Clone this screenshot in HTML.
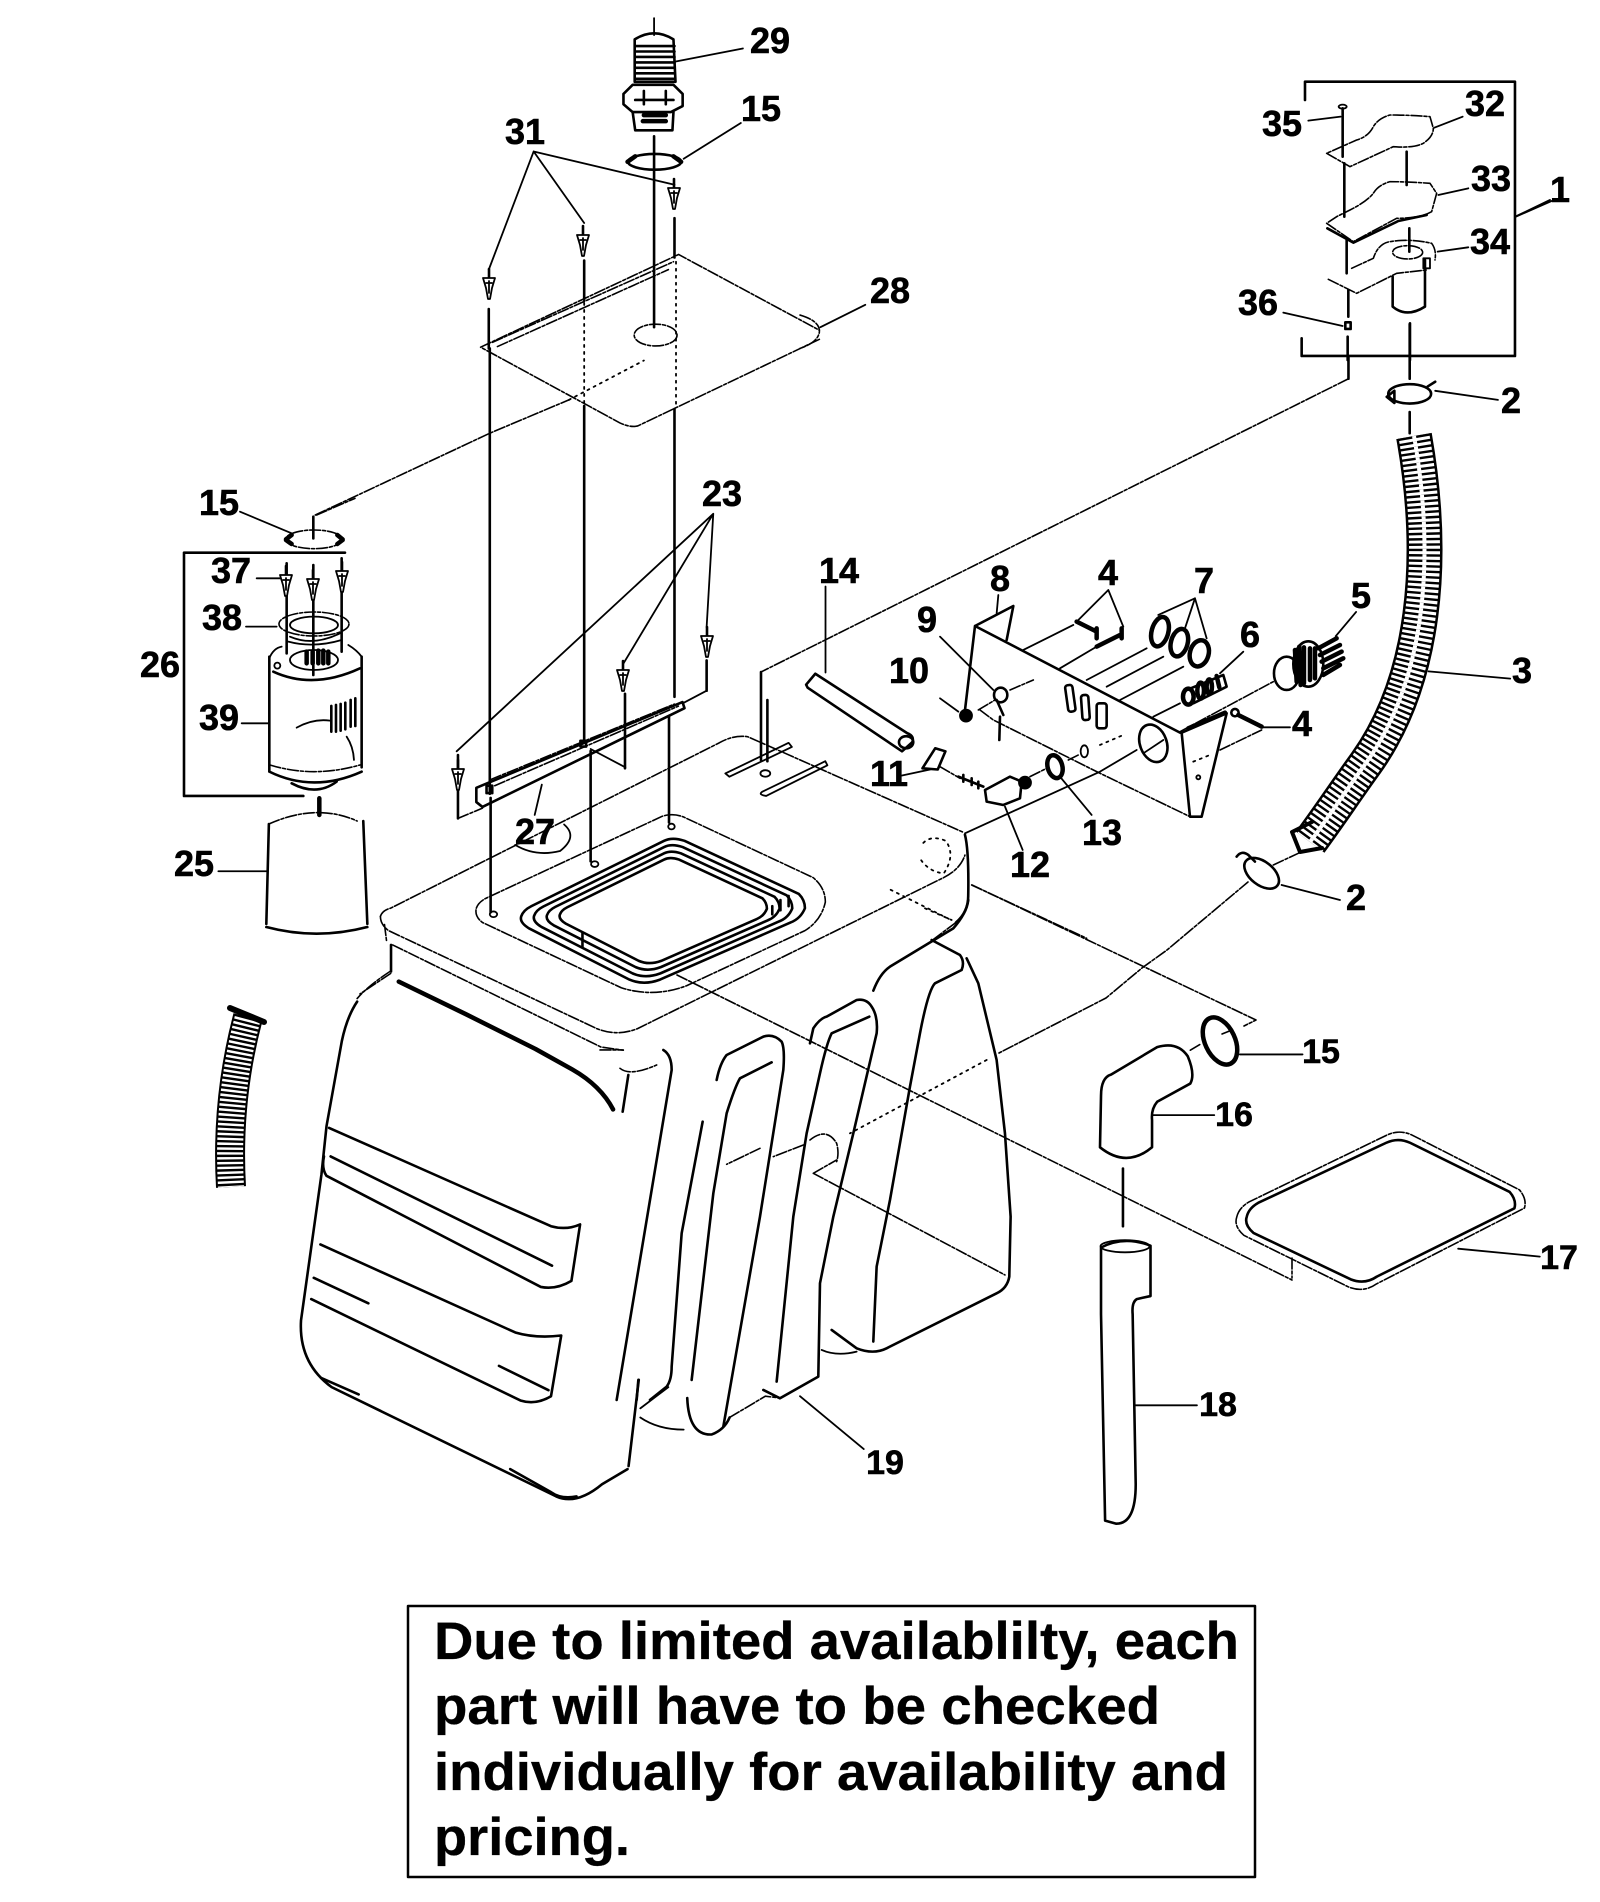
<!DOCTYPE html>
<html><head><meta charset="utf-8"><style>
html,body{margin:0;padding:0;background:#fff}
svg{display:block}
svg *{vector-effect:non-scaling-stroke}
g,path,ellipse,line,polyline,rect,circle{fill:none;stroke:#000;stroke-width:1.8;stroke-linecap:round;stroke-linejoin:round}
.d{stroke-width:1.6;stroke-dasharray:11 2 3 2}
.o{stroke-width:1.8;stroke-dasharray:2 5}
.t{stroke-width:2.6}
.x{stroke-width:4.5}
.f{fill:#000}
.w{fill:#fff}
text{font-family:"Liberation Sans",sans-serif;font-weight:bold;fill:#000;stroke:#000;stroke-width:.6;font-size:36px;text-anchor:middle}
text.b{font-size:53px;text-anchor:start;stroke-width:.3}
text.m{font-size:34px}
</style></head><body>
<svg width="1600" height="1902" viewBox="0 0 1600 1902" xmlns="http://www.w3.org/2000/svg">
<defs><g id="sc"><path d="M0 -16V-8" class="t"/><path d="M-6 -7L6 -7L3 3L1 14H-1L-3 3Z" class="w"/><path d="M-3 -2H3M0 -4V8"/></g></defs>

<!-- Q1 -->
<g transform="scale(.5102 .6059)">
<path d="M1282 30V58"/>
<path class="t" d="M1244 65Q1282 45 1320 65L1324 135H1244Z"/>
<path class="t" d="M1246 76H1322M1246 85H1322M1246 94H1322M1246 103H1322M1246 112H1322M1246 121H1322M1246 130H1322"/>
<path class="t" d="M1222 155L1240 140H1320L1338 155V175L1315 185H1240L1222 172Z"/>
<path class="t" d="M1240 185L1245 215H1318L1320 185M1262 150V172M1305 150V172M1245 165H1320"/>
<path class="x" d="M1260 200H1305M1262 190H1305"/>
<path class="t" d="M1282 225V540"/>
<ellipse cx="1283" cy="267" rx="52" ry="13" class="t"/>
<path class="x" d="M1230 267L1245 258M1335 267L1320 258"/>
<path d="M1322 102L1456 80M1340 262L1452 203"/>
<path d="M1046 250L958 445M1046 250L1145 368M1046 250L1322 305"/>
<path class="t" d="M958 510V575M1145 430V495M1322 360V425"/>
<path class="o" d="M1145 500V665M1325 432V670"/>
<path class="d" d="M942 573L1330 420L1606 545M1606 560L1250 703Q1235 706 1215 698L942 573"/>
<path class="d" d="M965 565L1320 432M975 572L1310 445"/>
<ellipse cx="1285" cy="553" rx="42" ry="18" class="d"/>
<path class="d" d="M618 850L960 715L1115 660"/>
<path class="o" d="M1115 660L1262 595"/>
<path d="M1062 1295L1048 1345"/>
</g>

<!-- Filter -->
<g transform="translate(160 500) scale(.3333)">
<ellipse cx="462" cy="118" rx="85" ry="28" class="d"/>
<path class="x" d="M378 118L395 105M378 120L395 132M548 118L532 105M548 120L532 132"/>
<path d="M240 35L395 100M290 235H360M258 380H350M245 670H325"/>
<path class="t" d="M460 50V115"/>
<path class="d" d="M470 45L585 -5"/>
<path class="t" d="M555 158H72V888H430"/>
<path class="t" d="M380 190V225M380 270V460M460 195V235M460 280V525M545 175V210M545 260V455"/>
<ellipse cx="462" cy="372" rx="105" ry="36" class="d"/>
<ellipse cx="462" cy="375" rx="72" ry="25"/>
<path d="M390 410Q460 440 540 400M385 425Q460 445 545 420"/>
<path class="t" d="M328 470V812M605 470V802"/>
<path d="M328 475Q340 445 365 440M565 435Q590 450 605 470"/>
<path class="t" d="M340 515Q460 570 600 505"/>
<ellipse cx="462" cy="480" rx="72" ry="30"/>
<circle cx="352" cy="497" r="9"/>
<path class="x" d="M440 455V490M458 455V490M475 452V490M490 452V490M505 455V490"/>
<path class="d" d="M330 795Q460 835 600 795"/>
<path class="t" d="M328 815Q460 880 605 815"/>
<path class="t" d="M395 850Q470 890 530 845"/>
<path class="t" d="M514 618V695M528 615V695M542 612V692M556 608V688M572 600V680M586 595V678"/>
<path d="M410 683Q460 655 510 662M560 710Q580 740 582 780"/>
<path class="x" d="M478 895V945"/>
</g>

<!-- 25 -->
<g transform="scale(.5102 .6059)">
<path d="M428 1438H522"/>
<path class="t" d="M527 1360L522 1525M712 1355L720 1525"/>
<path class="d" d="M527 1360Q620 1325 700 1355"/>
<path class="t" d="M522 1530Q620 1552 720 1530"/>
</g>

<!-- 23 + bracket -->
<g transform="scale(.5102 .6059)">
<path d="M1398 848L895 1240M1398 848L1222 1095M1398 848L1385 1035"/>
<path class="t" d="M1225 1145V1268M1385 1090V1140"/>
<path d="M1385 1140L1340 1160"/>
<path class="t" d="M960 575V1310M1145 670V1225M1322 675V1150"/>
</g>

<g transform="translate(360 700) scale(.4082)">
<path class="t" d="M285 215L790 5L795 20L300 262L285 250Z"/>
<path class="d" d="M320 195L770 10M330 210L780 15"/>
<path class="t" d="M240 135V290"/>
<path class="d" d="M240 290L300 265"/>
<path d="M565 120L650 165"/>
<path class="t" d="M320 240V520M565 125V395M757 40V300"/>
<ellipse cx="327" cy="525" rx="9" ry="7"/><ellipse cx="575" cy="402" rx="9" ry="7"/><ellipse cx="763" cy="310" rx="8" ry="7"/>
<path d="M310 210h14v18h-14z" class="t"/><path d="M540 100h14v14h-14z" class="t"/>
<path d="M500 305Q535 335 490 370M380 355Q430 385 490 370"/>
<!-- tank top -->
<path class="d" d="M50 530Q55 515 75 510L880 105Q915 85 950 90L1480 325"/>
<path class="d" d="M50 530Q50 550 70 565L580 805Q630 825 680 805L1430 435Q1470 415 1482 380"/>
<path class="t" d="M1482 330Q1492 370 1490 480Q1490 520 1460 545"/>
<path class="d" d="M60 550L65 590M80 600L590 850L645 858"/>
<path class="t" d="M76 600V665"/>
<path class="d" d="M75 670L0 720M1460 545L1400 590"/>
<path class="d" d="M285 510Q290 495 310 485L740 285Q770 275 800 290L1110 435Q1140 460 1140 495Q1130 540 1090 565L800 700Q720 730 640 705L300 545Q280 530 285 510Z"/>
<g transform="translate(745 515)">
<path class="t" d="M-350 15Q-345 0 -325 -10L0 -170Q20 -180 50 -170L330 -40Q345 -25 345 -5Q335 20 310 30L-10 170Q-50 185 -85 170L-330 45Q-355 30 -350 15Z"/>
<path class="t" transform="scale(.91)" d="M-350 15Q-345 0 -325 -10L0 -170Q20 -180 50 -170L330 -40Q345 -25 345 -5Q335 20 310 30L-10 170Q-50 185 -85 170L-330 45Q-355 30 -350 15Z"/>
<path class="t" transform="scale(.82)" d="M-350 15Q-345 0 -325 -10L0 -170Q20 -180 50 -170L330 -40Q345 -25 345 -5Q335 20 310 30L-10 170Q-50 185 -85 170L-330 45Q-355 30 -350 15Z"/>
<path class="t" transform="scale(.73)" d="M-350 15Q-345 0 -325 -10L0 -170Q20 -180 50 -170L330 -40Q345 -25 345 -5Q335 20 310 30L-10 170Q-50 185 -85 170L-330 45Q-355 30 -350 15Z"/>
</g>
<path class="t" d="M545 570V605M1010 505V525M1030 490V515M1050 480V505"/>
<!-- slots -->
<path d="M895 180L1050 105L1058 115L905 188ZM985 225L1140 150L1145 160L995 235Q975 232 985 225Z"/>
<ellipse cx="993" cy="180" rx="12" ry="8"/>
<path class="t" d="M998 0V150"/>
<path class="o" d="M1380 350Q1400 330 1435 345Q1460 380 1430 425Q1390 420 1370 385M1300 465L1450 540"/>
<!-- front top details -->
<path class="x" d="M95 690L260 770L430 855L520 905Q590 945 620 1003"/>
</g>

<!-- Front panel -->
<g transform="translate(0 950) scale(.5102 .6071)">
<path class="d" d="M765 35Q720 60 700 80"/>
<path class="t" d="M700 85Q680 110 670 150L640 290L630 370L590 610Q585 680 650 720L1090 900Q1130 915 1180 880L1230 855"/>
<path class="t" d="M1252 708L1232 850"/>
<path class="t" d="M645 293L1080 455Q1110 462 1137 452L1120 545Q1090 560 1060 555L640 372Q630 360 635 340"/>
<path class="t" d="M648 340L1082 520"/>
<path class="t" d="M628 485L1010 630Q1050 640 1100 635L1080 735Q1050 750 1020 742L610 575"/>
<path class="t" d="M615 540L722 582M978 685L1075 725M630 705L703 732M1000 855L1080 893Q1100 905 1130 900"/>
<path d="M1255 755L1310 720M1255 770Q1290 790 1340 790"/>
<path class="t" d="M1347 738Q1350 800 1395 798Q1420 790 1430 770"/>
<path class="d" d="M1430 770L1500 735L1530 738"/>
</g>

<!-- Ribs -->
<g transform="translate(600 900) scale(.3333)">
<path class="t" d="M190 450Q215 465 215 510L50 1500"/>
<path d="M0 450H70" class="d"/>
<path class="d" d="M60 505Q90 530 170 495"/>
<path class="t" d="M85 525L68 635"/>
<path class="t" d="M350 540Q360 490 380 465L490 410Q520 400 545 425Q555 445 550 510L480 950L370 1580"/>
<path class="t" d="M515 487L420 535Q405 560 380 640L340 880L275 1440"/>
<path class="t" d="M308 665L245 1000L215 1400Q215 1440 200 1460L150 1500M115 1440L110 1500"/>
<path class="t" d="M630 430L640 385Q660 355 680 350L770 300Q800 295 815 320Q835 350 830 400L760 700L700 950L660 1150L655 1430L540 1495L490 1470"/>
<path class="t" d="M808 350L695 400Q680 430 660 520L620 700L580 950L530 1445"/>
<path class="t" d="M820 272Q840 220 870 200L1060 85Q1100 40 1105 0"/>
<path class="t" d="M995 120L1080 165Q1095 185 1085 210L1005 250Q985 270 960 400L930 560L870 900L830 1100L820 1325"/>
<path class="t" d="M1100 175L1135 250L1190 480L1215 700L1232 950L1228 1130Q1222 1165 1190 1180L860 1345Q820 1365 770 1345L695 1290"/>
<path d="M665 1350Q710 1370 770 1355"/>
<path class="o" d="M1160 480L750 700"/>
<path class="d" d="M610 735L520 770M480 745L380 793M640 820L710 780M640 820L1215 1125"/>
<path d="M630 720Q680 680 710 730Q718 760 710 785" class="d"/>
<path class="o" d="M975 25L1055 60"/>
</g>

<!-- Long lines in page coordinates -->
<path class="d" d="M677 975L1292 1280M1292 1258V1278"/>
<path class="d" d="M1248 882L1167 950L1142 968L1106 998L999 1053"/>
<path class="d" d="M972 885L1256 1020L1244 1026"/>
<path class="d" d="M1348 379L761 672"/>
<path class="t" d="M761 672V760"/>

<!-- Panel + small parts -->
<g transform="translate(940 540) scale(.3333)">
<path class="t" d="M105 258L720 578M105 258L75 510M105 258L220 198L200 300"/>
<path d="M175 165L170 220"/>
<path class="d" d="M120 510L160 540L300 610L470 695L750 830"/>
<path class="t" d="M725 578L750 830L785 830L860 520L725 578"/>
<path class="x" d="M745 565L855 518"/>
<circle cx="775" cy="712" r="6"/>
<path class="o" d="M760 665L810 645M480 615L550 585"/>
<ellipse cx="640" cy="610" rx="40" ry="58" transform="rotate(-20 640 610)" class="t"/>
<path d="M610 640L670 600M75 880L480 695L590 630"/>
<rect x="380" y="435" width="22" height="80" rx="8" class="t" transform="rotate(-8 391 475)"/>
<rect x="425" y="465" width="22" height="75" rx="8" class="t" transform="rotate(-4 436 500)"/>
<rect x="470" y="490" width="30" height="75" rx="8" class="t"/>
<ellipse cx="433" cy="634" rx="11" ry="18"/>
<ellipse cx="182" cy="465" rx="20" ry="22" class="t"/>
<path class="t" d="M170 480L190 525M180 530L178 600"/>
<path class="d" d="M210 450L280 420M115 510L165 480M385 660L415 645"/>
<path d="M0 290L160 450M0 475L55 515"/>
<circle cx="78" cy="527" r="18" class="f"/>
<path d="M250 330L400 255M360 385L470 320M440 420L620 325M500 440L670 350M540 480L730 380M640 530L720 490"/>
<path class="d" d="M720 575L1000 425"/>
<path d="M505 150L415 240M505 150L550 260"/>
<path class="x" d="M410 245L470 275M470 265V295M470 320L540 285M545 265V295"/>
<ellipse cx="660" cy="275" rx="25" ry="45" transform="rotate(15 660 275)" class="x"/>
<ellipse cx="718" cy="308" rx="25" ry="42" transform="rotate(15 718 308)" class="x"/>
<ellipse cx="778" cy="340" rx="28" ry="40" transform="rotate(15 778 340)" class="x"/>
<path d="M765 175L655 225M765 175L735 265M765 175L800 295"/>
<path d="M910 335L840 400"/>
<path class="t" d="M745 448L850 405L860 440L760 490"/>
<ellipse cx="745" cy="470" rx="16" ry="24" class="x"/>
<ellipse cx="782" cy="452" rx="10" ry="24" class="x"/>
<ellipse cx="808" cy="440" rx="8" ry="22" class="x"/>
<path class="x" d="M830 408L838 442"/>
<ellipse cx="1040" cy="400" rx="38" ry="50" class="t"/>
<ellipse cx="1105" cy="372" rx="45" ry="68" class="t"/>
<path class="x" d="M1065 330L1070 425M1078 320L1082 435M1092 322V430M1110 325V420M1125 325V415"/>
<path class="x" d="M1135 325L1190 295M1140 345L1200 315M1145 365L1205 335M1150 385L1210 355M1150 405L1200 375"/>
<circle cx="885" cy="518" r="11" class="t"/>
<path class="x" d="M895 525L965 560"/>
<path d="M965 562H1050"/>
<path class="d" d="M840 630L965 570"/>
<path class="t" d="M55 710L130 740M70 705V725M95 715V735M115 725V745"/>
<path class="t" d="M135 750L210 710L245 725L240 775L190 795L140 785Z"/>
<circle cx="255" cy="728" r="18" class="f"/>
<path d="M195 800L248 930"/>
<path class="d" d="M270 710L320 685M0 680L60 715"/>
<ellipse cx="345" cy="680" rx="22" ry="35" transform="rotate(-15 345 680)" class="x"/>
<path d="M360 710L455 825"/>
<path style="stroke-width:1.6;stroke-dasharray:11 2 3 2" d="M95 1035L440 1195"/>
<ellipse cx="965" cy="1000" rx="60" ry="35" transform="rotate(38 965 1000)" class="t"/>
<path class="t" d="M890 950Q905 930 925 945L945 965"/>
<path d="M1025 1035L1200 1080"/>
<path class="d" d="M1000 975L1075 940"/>
</g>

<!-- Q2 -->
<g transform="translate(800 0) scale(.5102 .6059)">
<path d="M40 540L128 503"/>
<path class="d" d="M0 520Q40 530 38 548Q35 565 0 575"/>
<path d="M50 968V1110"/>
<path class="t" d="M12 1130L30 1112L210 1210Q225 1215 220 1225L200 1240L15 1135Z"/>
<ellipse cx="208" cy="1225" rx="14" ry="10" class="t"/>
<path d="M200 1280L255 1270"/>
<path class="t" d="M240 1268L265 1235L285 1240L270 1270Z"/>
<path class="t" d="M1075 590V625M1195 535V625M1195 680V715"/>
<ellipse cx="1195" cy="650" rx="42" ry="16" class="t"/>
<path class="t" d="M1150 655L1165 645V665ZM1230 638L1245 630"/>
<path d="M1245 645L1368 660"/>
<path d="M1402 358L1478 330"/>
<path d="M1232 1108L1392 1120"/>
<path d="M1090 1010L1050 1050"/>
</g>

<!-- 3 hose -->
<g>
<path d="M1414 436C1436 560 1425 680 1366 763C1345 792 1330 815 1310 842" style="stroke-width:36;stroke-linecap:butt"/>
<path d="M1414 436C1436 560 1425 680 1366 763C1345 792 1330 815 1310 842" style="stroke:#fff;stroke-width:31;stroke-linecap:butt"/>
<path d="M1414 436C1436 560 1425 680 1366 763C1345 792 1330 815 1310 842" style="stroke-width:32;stroke-dasharray:2.4 3;stroke-linecap:butt"/>
<path d="M1414 436C1436 560 1425 680 1366 763C1345 792 1330 815 1310 842" style="stroke:#fff;stroke-width:4;stroke-dasharray:3 2.4;stroke-linecap:butt"/>
<path d="M1312 822L1292 832L1300 852L1322 848" style="stroke-width:4"/>
<path d="M248 1017Q226 1100 231 1187" style="stroke-width:30;stroke-linecap:butt"/>
<path d="M248 1017Q226 1100 231 1187" style="stroke:#fff;stroke-width:26;stroke-linecap:butt"/>
<path d="M248 1017Q226 1100 231 1187" style="stroke-width:28;stroke-dasharray:2.4 2.4;stroke-linecap:butt"/>
<path d="M230 1008L264 1022" style="stroke-width:6"/>
</g>

<!-- Assembly 1 -->
<g transform="translate(1250 60) scale(.3333)">
<path class="t" d="M165 120V65H795V888H155V835"/>
<path d="M800 468L900 420"/>
<ellipse cx="278" cy="140" rx="12" ry="6"/>
<path class="t" d="M278 145V290M283 310V470M290 540V640M295 690V770M293 830V900M470 275V375M478 505V575M480 790V900"/>
<path class="d" d="M230 280L300 320L430 260Q490 265 520 250Q550 230 550 205L540 170Q480 165 420 165Q385 175 370 200Q355 230 320 240Z"/>
<path d="M553 203L638 170M565 405L655 385M563 575L655 562M175 182L272 170M100 758L278 798"/>
<path class="d" d="M230 490L310 545L440 475Q510 475 545 455L560 400L540 370Q470 365 420 365Q385 375 370 400Q350 425 300 450L260 470Z"/>
<path class="t" d="M232 505L310 548L445 483L530 465"/>
<path class="d" d="M235 658L320 700L440 640L530 630M305 625L370 595Q385 550 420 545Q480 535 545 550Q560 570 555 600"/>
<ellipse cx="473" cy="577" rx="45" ry="20" class="d"/>
<path class="t" d="M428 650V740Q470 775 525 740V600"/>
<rect x="520" y="595" width="20" height="30"/>
<rect x="286" y="787" width="16" height="20" class="t"/>
</g>

<!-- Q4 -->
<g transform="translate(800 950) scale(.5102 .6071)">
<path d="M862 172H985M692 272H812M1290 492L1450 505M655 750H778M0 735L125 822"/>
<path class="t" d="M590 240Q590 210 610 205L700 160Q740 150 760 175Q775 205 765 220L700 250Q688 262 690 280V325Q640 360 588 325Z"/>
<path class="t" d="M590 490Q635 470 687 487V570L660 575Q650 580 652 600L658 880Q658 945 620 945L598 940L590 600Z"/>
<ellipse cx="637" cy="488" rx="48" ry="10"/>
<path class="t" d="M633 360V455"/>
<path class="d" d="M765 165L785 155"/>
<path class="d" d="M856 440Q860 425 880 415L1150 305Q1175 295 1200 305L1410 395Q1425 410 1420 425L1130 550Q1105 565 1075 555L870 470Q850 455 856 440Z"/>
<g transform="translate(1138 430) scale(.93 .9) translate(-1138 -430)"><path class="t" d="M856 440Q860 425 880 415L1150 305Q1175 295 1200 305L1410 395Q1425 410 1420 425L1130 550Q1105 565 1075 555L870 470Q850 455 856 440Z"/></g>
</g>
<ellipse cx="1220" cy="1041" rx="15" ry="25" transform="rotate(-25 1220 1041)" style="stroke-width:4.5"/>
<path class="d" d="M1222 1034L1232 1030"/>

<!-- screws -->
<use href="#sc" x="489" y="285"/><use href="#sc" x="583" y="242"/><use href="#sc" x="674" y="195"/>
<use href="#sc" x="458" y="776"/><use href="#sc" x="623" y="677"/><use href="#sc" x="707" y="643"/>
<use href="#sc" x="286" y="582"/><use href="#sc" x="313" y="586"/><use href="#sc" x="342" y="578"/>

<!-- labels -->
<text x="770" y="53">29</text><text x="761" y="121">15</text><text x="525" y="144">31</text>
<text x="219" y="515">15</text><text x="160" y="677">26</text><text x="231" y="583">37</text>
<text x="222" y="630">38</text><text x="219" y="730">39</text><text x="194" y="876">25</text>
<text x="722" y="506">23</text><text x="535" y="844">27</text>
<text x="1485" y="116">32</text><text x="1491" y="191">33</text><text x="1490" y="254">34</text>
<text x="1282" y="136">35</text><text x="1258" y="315">36</text><text x="1560" y="202">1</text>
<text x="1511" y="413">2</text><text x="890" y="303">28</text><text x="839" y="583">14</text>
<text x="1000" y="591">8</text><text x="927" y="632">9</text><text x="909" y="683">10</text>
<text x="1108" y="585">4</text><text x="1204" y="593">7</text><text x="1361" y="608">5</text>
<text x="1250" y="647">6</text><text x="1522" y="683">3</text><text x="1302" y="736">4</text>
<text x="889" y="786">11</text><text x="1102" y="845">13</text><text x="1030" y="877">12</text>
<text x="1356" y="910">2</text>
<text class="m" x="1321" y="1063">15</text><text class="m" x="1234" y="1126">16</text>
<text class="m" x="1559" y="1269">17</text><text class="m" x="1218" y="1416">18</text><text class="m" x="885" y="1474">19</text>

<!-- note -->
<rect x="408" y="1606" width="847" height="271" style="stroke-width:2.5"/>
<text class="b" x="434" y="1659" textLength="805" lengthAdjust="spacingAndGlyphs">Due to limited availablilty, each</text>
<text class="b" x="434" y="1724" textLength="726" lengthAdjust="spacingAndGlyphs">part will have to be checked</text>
<text class="b" x="434" y="1790" textLength="794" lengthAdjust="spacingAndGlyphs">individually for availability and</text>
<text class="b" x="434" y="1855" textLength="196" lengthAdjust="spacingAndGlyphs">pricing.</text>
</svg>
</body></html>
